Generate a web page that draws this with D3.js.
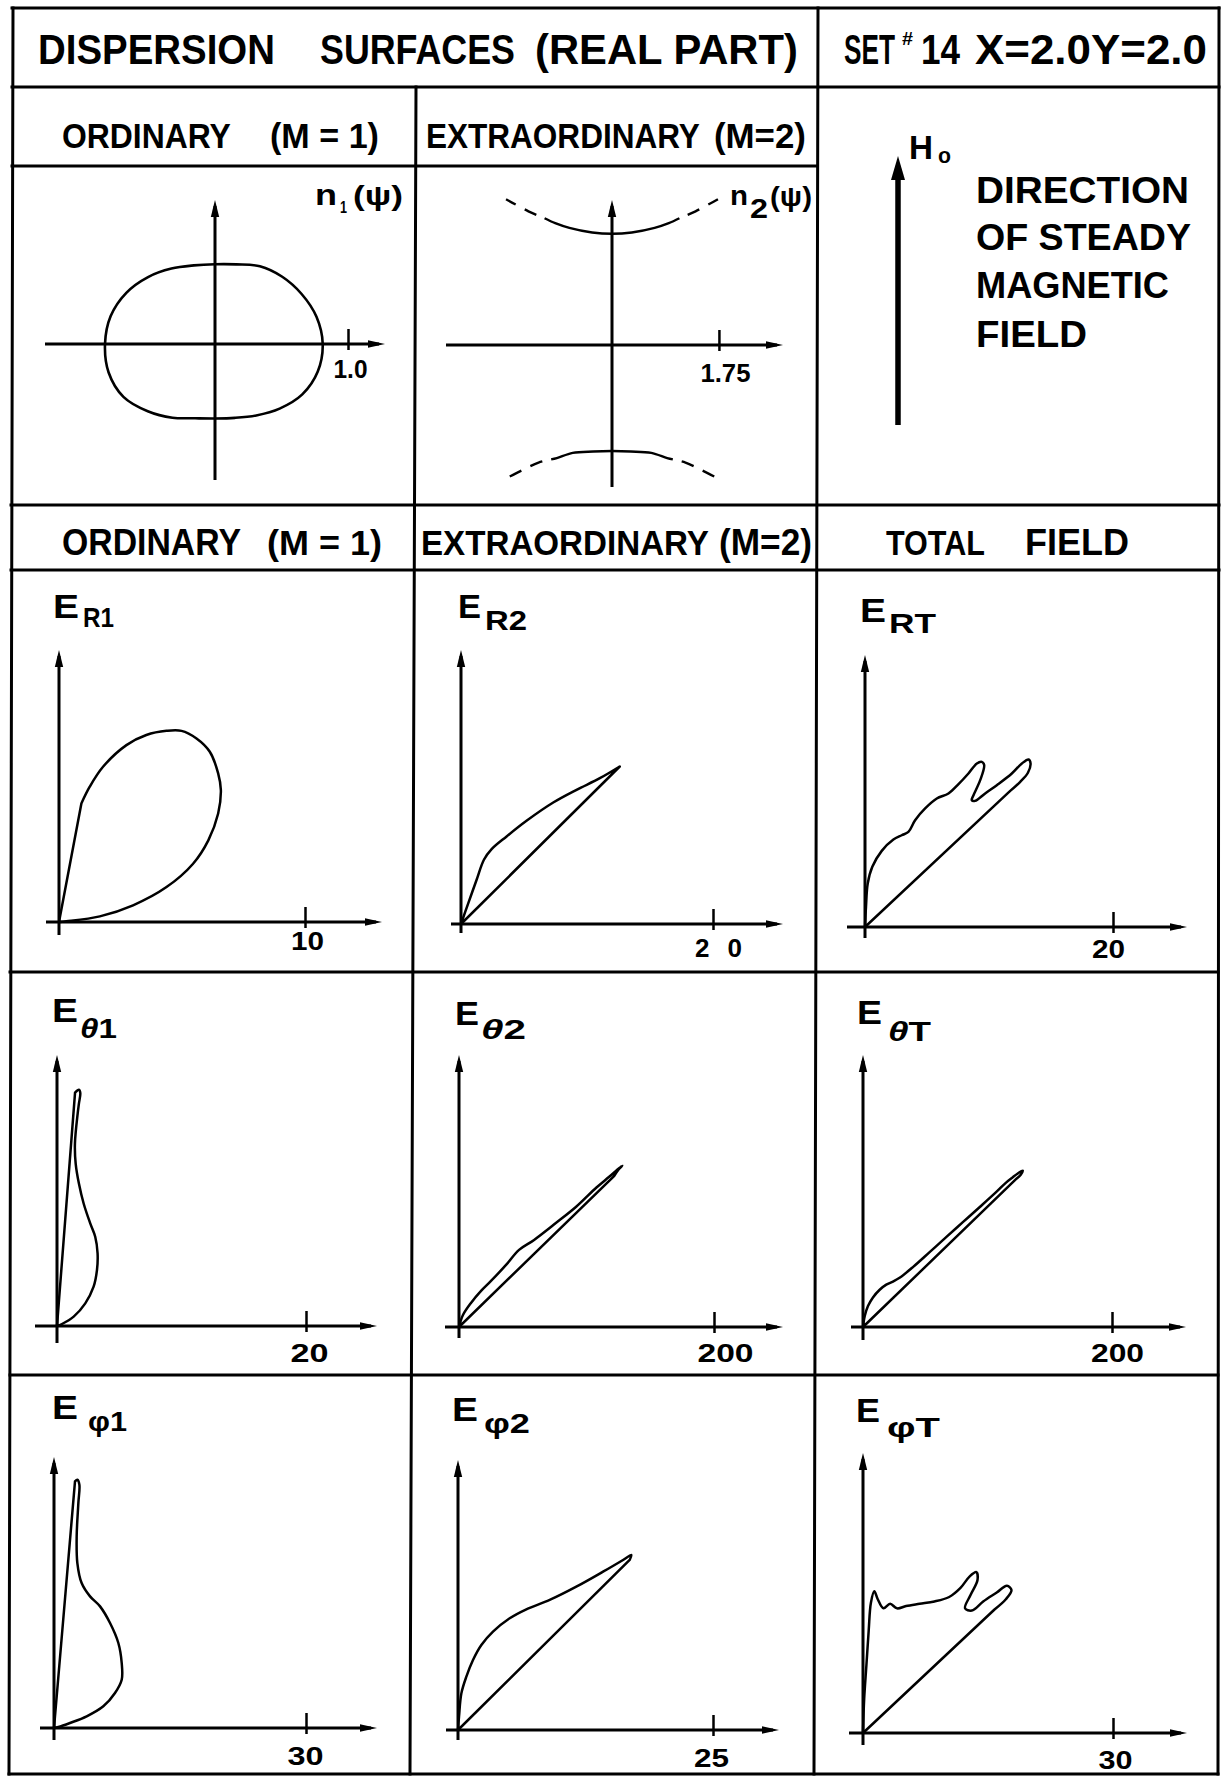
<!DOCTYPE html>
<html>
<head>
<meta charset="utf-8">
<script src="https://cdn.jsdelivr.net/npm/d3@7"></script>
<style>
  html, body { margin: 0; padding: 0; background: #fff; }
  svg { display: block; }
  text { font-family: "Liberation Sans", Arial, sans-serif; font-weight: bold; fill: #000; }
</style>
</head>
<body>
<svg id="chart" width="1222" height="1776"></svg>
<script>
// ---------- Dispersion surfaces ----------
// Ordinary mode n1(psi): psi in degrees from the steady field direction
const n1Psi    = [0, 15, 30, 45, 60, 75, 90, 105, 120, 135, 150, 165, 180, 195, 210, 225, 240, 255, 270, 285, 300, 315, 330, 345];
const n1Values = [0.60, 0.62, 0.675, 0.715, 0.752, 0.79, 0.81, 0.80, 0.758, 0.687, 0.62, 0.575, 0.56, 0.578, 0.64, 0.715, 0.795, 0.828, 0.827, 0.812, 0.77, 0.712, 0.655, 0.612];

// Extraordinary mode n2(psi): upper branch (psi from +axis) and lower branch (psi from -axis)
const n2UpperPsi    = [0, 10, 20, 25, 28, 32, 36];
const n2UpperValues = [1.82, 1.87, 2.04, 2.20, 2.35, 2.58, 2.95];
const n2LowerPsi    = [0, 10, 20, 26, 28, 32, 36, 39];
const n2LowerValues = [1.735, 1.77, 1.88, 2.06, 2.12, 2.27, 2.55, 2.85];
const n2SolidLimit  = 28;   // beyond this angle the branch is drawn dashed

// ---------- Field patterns (horizontal / vertical components) ----------
const eR1x = [0.91, 1.25, 1.79, 2.74, 3.55, 4.37, 4.98, 5.59, 6.13, 6.47, 6.58, 6.47, 6.07, 5.45, 4.37, 3.01, 1.66, 0.30, 0];
const eR1y = [4.82, 5.50, 6.31, 7.19, 7.60, 7.77, 7.77, 7.46, 6.92, 6.04, 5.36, 4.41, 3.32, 2.37, 1.42, 0.68, 0.23, 0.03, 0];

const eR2x = [0, 0.58, 1.24, 1.82, 2.43, 3.62, 5.20, 7.32, 9.17, 11.02, 12.60];
const eR2y = [0, 1.66, 3.51, 5.10, 5.94, 6.95, 8.19, 9.64, 10.65, 11.57, 12.50];

const eRTx = [0, 0.08, 0.22, 0.59, 1.35, 2.29, 2.96, 3.50, 4.04, 4.85, 5.79, 6.73, 7.54, 8.34, 9.02, 9.42, 9.61, 9.29, 8.75, 8.61, 8.88, 9.69, 10.63, 11.84, 12.65, 13.19, 13.35, 13.14, 12.52, 11.71];
const eRTy = [0, 1.62, 3.50, 4.85, 6.14, 7.05, 7.40, 7.67, 8.61, 9.56, 10.36, 10.77, 11.52, 12.38, 13.19, 13.32, 13.06, 11.84, 10.63, 10.23, 10.17, 10.77, 11.44, 12.38, 13.19, 13.51, 13.19, 12.44, 11.71, 10.98];

const eTh1x = [1.45, 1.76, 1.87, 1.76, 1.66, 1.44, 1.50, 1.76, 2.14, 2.67, 3.07, 3.26, 3.21, 2.94, 2.27, 1.34, 0.40, 0];
const eTh1y = [18.75, 18.98, 18.72, 17.86, 17.06, 14.65, 13.05, 11.44, 9.84, 8.24, 7.17, 5.83, 4.49, 3.16, 1.82, 0.75, 0.16, 0];

const eTh2x = [0, 3.1, 9.4, 17.3, 25.1, 36.9, 47.1, 58.9, 76.2, 91.9, 107.6, 117.8, 124.1, 128.0, 125.7, 121.8];
const eTh2y = [0, 9.4, 18.9, 28.3, 36.1, 48.7, 60.5, 68.3, 81.7, 94.3, 109.2, 117.8, 123.3, 126.5, 124.1, 118.6];

const eThTx = [0, 1.4, 4.0, 8.0, 13.4, 18.7, 24.1, 29.4, 40.1, 53.5, 66.8, 80.2, 93.6, 106.9, 114.9, 120.3, 124.3, 128.3, 126.7, 123.5];
const eThTy = [0, 8.8, 16.8, 23.7, 29.9, 34.0, 36.5, 39.5, 48.1, 60.1, 72.2, 84.2, 96.2, 108.3, 116.0, 120.3, 123.3, 125.6, 122.3, 119.3];

const ePh1x = [2.50, 2.78, 3.02, 2.90, 2.70, 2.78, 3.29, 4.29, 5.48, 6.67, 7.66, 8.06, 8.06, 7.26, 5.87, 3.89, 1.90, 0.52, 0];
const ePh1y = [29.37, 29.56, 28.97, 26.79, 22.82, 19.64, 17.26, 15.67, 14.48, 12.50, 10.12, 7.74, 5.75, 4.17, 2.58, 1.39, 0.60, 0.12, 0];

const ePh2x = [0, 0.10, 0.33, 0.82, 1.47, 2.29, 3.43, 5.07, 6.70, 8.99, 11.60, 14.22, 16.18, 16.99, 16.83];
const ePh2y = [0, 1.31, 3.59, 5.23, 6.86, 8.33, 9.64, 10.95, 11.83, 12.75, 14.05, 15.52, 16.67, 17.16, 16.67];

const ePhTx = [0, 0.14, 0.41, 0.68, 0.95, 1.36, 1.77, 2.45, 3.26, 4.08, 5.17, 6.80, 8.57, 10.34, 11.70, 12.78, 13.60, 13.74, 12.92, 12.24, 13.06, 14.42, 16.05, 17.27, 17.82, 17.14, 15.78];
const ePhTy = [0, 4.08, 8.16, 12.24, 15.64, 17.00, 16.05, 14.96, 15.50, 14.96, 15.23, 15.50, 15.78, 16.32, 17.41, 18.77, 19.31, 18.36, 16.59, 14.96, 14.69, 15.78, 16.86, 17.68, 17.14, 16.05, 14.82];

const patternSubscripts = ["R1", "R2", "RT", "θ1", "θ2", "θT", "φ1", "φ2", "φT"];
const patternTicks      = [10, 20, 20, 20, 200, 200, 30, 25, 30];
const patternX = [eR1x, eR2x, eRTx, eTh1x, eTh2x, eThTx, ePh1x, ePh2x, ePhTx];
const patternY = [eR1y, eR2y, eRTy, eTh1y, eTh2y, eThTy, ePh1y, ePh2y, ePhTy];

// ---------- Layout ----------
const svg = d3.select("#chart");
const ink = "#000";

// table frame
const frame = svg.append("g").attr("stroke", ink).attr("stroke-width", 3).attr("fill", "none").attr("stroke-linecap", "square");
[
  [12, 8, 1219, 8], [12, 87, 1219, 87], [12, 166, 816, 166], [11, 505, 1219, 505],
  [11, 570, 1219, 570], [10, 972, 1218, 972], [10, 1375, 1218, 1375], [9, 1774, 1218, 1774],
  [13, 8, 9, 1774], [1219, 8, 1218, 1774], [416, 87, 410, 1774], [818, 8, 814, 1774]
].forEach(l => frame.append("line").attr("x1", l[0]).attr("y1", l[1]).attr("x2", l[2]).attr("y2", l[3]));

// header lettering
const headers = [
  { t: "DISPERSION", x: 38, w: 237, y: 64, fs: 42 },
  { t: "SURFACES", x: 320, w: 195, y: 64, fs: 42 },
  { t: "(REAL PART)", x: 535, w: 263, y: 64, fs: 42 },
  { t: "SET", x: 844, w: 51, y: 64, fs: 42 },
  { t: "#", x: 902, w: 11, y: 45, fs: 18 },
  { t: "14", x: 921, w: 39, y: 64, fs: 42 },
  { t: "X=2.0Y=2.0", x: 975, w: 232, y: 64, fs: 42 },
  { t: "ORDINARY", x: 62, w: 169, y: 148, fs: 35 },
  { t: "(M = 1)", x: 270, w: 109, y: 148, fs: 35 },
  { t: "EXTRAORDINARY", x: 426, w: 274, y: 148, fs: 35 },
  { t: "(M=2)", x: 714, w: 92, y: 148, fs: 35 },
  { t: "ORDINARY", x: 62, w: 179, y: 555, fs: 36 },
  { t: "(M = 1)", x: 267, w: 115, y: 555, fs: 36 },
  { t: "EXTRAORDINARY", x: 421, w: 288, y: 555, fs: 36 },
  { t: "(M=2)", x: 719, w: 93, y: 555, fs: 36 },
  { t: "TOTAL", x: 886, w: 99, y: 555, fs: 36 },
  { t: "FIELD", x: 1025, w: 104, y: 555, fs: 36 },
  { t: "DIRECTION", x: 976, w: 213, y: 203, fs: 37 },
  { t: "OF STEADY", x: 976, w: 215, y: 250, fs: 37 },
  { t: "MAGNETIC", x: 976, w: 193, y: 298, fs: 37 },
  { t: "FIELD", x: 976, w: 111, y: 347, fs: 37 },
  { t: "H", x: 909, w: 24, y: 159, fs: 33 },
  { t: "o", x: 938, w: 13, y: 163, fs: 22 }
];

// Lettering fitted to a given width: narrow words get a smaller font stretched
// vertically back to full height, wide words get extra spacing.
function label(g, d) {
  const gg = g.append("g").attr("transform", `translate(${d.x},${d.y})`);
  const t = gg.append("text").attr("x", 0).attr("y", 0).attr("font-size", d.fs).text(d.t);
  const natural = t.node().getComputedTextLength();
  const s = d.w / natural;
  if (s < 1) {
    t.attr("font-size", d.fs * s);
    gg.attr("transform", `translate(${d.x},${d.y}) scale(1,${1 / s})`);
  } else {
    t.attr("textLength", d.w).attr("lengthAdjust", "spacingAndGlyphs");
  }
  return t;
}
headers.forEach(d => label(svg, d));

// arrow helpers
function arrowUp(g, x, yTip, len, hw) {
  g.append("path").attr("d", `M${x},${yTip}L${x + hw},${yTip + len}L${x - hw},${yTip + len}Z`).attr("fill", ink);
}
function arrowRight(g, xTip, y, len, hw) {
  g.append("path").attr("d", `M${xTip},${y}L${xTip - len},${y - hw}L${xTip - len},${y + hw}Z`).attr("fill", ink);
}

// steady field direction arrow
svg.append("line").attr("x1", 898).attr("y1", 425).attr("x2", 898).attr("y2", 170)
  .attr("stroke", ink).attr("stroke-width", 5.5);
arrowUp(svg, 898, 156, 24, 7);

// axis with one labelled tick, built from the panel's scale
function tickAxis(g, x, oy, tick, fmt, pad, dx, w, fs, adjust) {
  const ax = d3.axisBottom(x).tickValues([tick]).tickSize(-15).tickPadding(pad).tickFormat(fmt);
  const ga = g.append("g").attr("transform", `translate(0,${oy})`).call(ax);
  ga.select(".domain").remove();
  ga.attr("font-family", null).attr("font-size", null);
  ga.selectAll(".tick line").attr("y1", 6).attr("stroke", ink).attr("stroke-width", 2.5);
  ga.selectAll(".tick text").attr("font-size", fs).attr("dx", dx).attr("fill", ink)
    .attr("textLength", w).attr("lengthAdjust", adjust || "spacingAndGlyphs");
}

function drawAxes(g, ox, oy, hL, hR, vT, vB) {
  g.append("line").attr("x1", ox - hL).attr("y1", oy).attr("x2", ox + hR - 6).attr("y2", oy)
    .attr("stroke", ink).attr("stroke-width", 3);
  g.append("line").attr("x1", ox).attr("y1", oy + vB).attr("x2", ox).attr("y2", oy - vT + 6)
    .attr("stroke", ink).attr("stroke-width", 3);
  arrowRight(g, ox + hR, oy, 17, 3.8);
  arrowUp(g, ox, oy - vT, 17, 4.2);
}

// ---------- n1(psi) ----------
{
  const g = svg.append("g");
  const cx = 215, cy = 344, unit = 133;
  const x = d3.scaleLinear().domain([0, 1]).range([cx, cx + unit]);
  const r = d3.scaleLinear().domain([0, 1]).range([0, unit]);
  drawAxes(g, cx, cy, 170, 170, 144, 136);
  tickAxis(g, x, cy, 1.0, d3.format(".1f"), 16, 2, 34, 25);
  const pts = n1Psi.map((p, i) => [p * Math.PI / 180, n1Values[i]]);
  const line = d3.lineRadial().angle(d => d[0]).radius(d => r(d[1])).curve(d3.curveCatmullRomClosed);
  g.append("path").attr("transform", `translate(${cx},${cy})`).attr("d", line(pts))
    .attr("fill", "none").attr("stroke", ink).attr("stroke-width", 2.6);
  label(g, { t: "n", x: 315, w: 22, y: 205, fs: 30 });
  label(g, { t: "1", x: 340, w: 7, y: 213, fs: 17 });
  label(g, { t: "(ψ)", x: 353, w: 50, y: 205, fs: 27 });
}

// ---------- n2(psi) ----------
{
  const g = svg.append("g");
  const cx = 612, cy = 345, unit = 61.1;
  const x = d3.scaleLinear().domain([0, 1]).range([cx, cx + unit]);
  const r = d3.scaleLinear().domain([0, 1]).range([0, unit]);
  drawAxes(g, cx, cy, 166, 171, 145, 142);
  tickAxis(g, x, cy, 1.75, d3.format(".2f"), 19, 6, 50, 26);
  const line = d3.lineRadial().angle(d => d[0]).radius(d => r(d[1])).curve(d3.curveCatmullRom);
  const branch = (psi, vals, flip) => {
    const toA = p => (flip ? 180 - p : p) * Math.PI / 180;
    const full = [];
    for (let i = psi.length - 1; i > 0; i--) full.push([-psi[i], vals[i]]);
    for (let i = 0; i < psi.length; i++) full.push([psi[i], vals[i]]);
    const solid = full.filter(d => Math.abs(d[0]) <= n2SolidLimit).map(d => [toA(d[0]), d[1]]);
    const left = full.filter(d => d[0] <= -n2SolidLimit).reverse().map(d => [toA(d[0]), d[1]]);
    const right = full.filter(d => d[0] >= n2SolidLimit).map(d => [toA(d[0]), d[1]]);
    const gg = g.append("g").attr("transform", `translate(${cx},${cy})`)
      .attr("fill", "none").attr("stroke", ink).attr("stroke-width", 2.4);
    gg.append("path").attr("d", line(solid));
    [left, right].forEach(seg => gg.append("path").attr("d", line(seg))
      .attr("stroke-dasharray", "13,10").attr("stroke-dashoffset", -9));
  };
  branch(n2UpperPsi, n2UpperValues, false);
  branch(n2LowerPsi, n2LowerValues, true);
  label(g, { t: "n", x: 730, w: 18, y: 205, fs: 28 });
  label(g, { t: "2", x: 750, w: 18, y: 218, fs: 28 });
  label(g, { t: "(ψ)", x: 770, w: 42, y: 206, fs: 27 });
}

// ---------- field pattern panels ----------
const panelLayout = [
  { ox: 59,  oy: 922,  tp: 246, hL: 13, hR: 323, vT: 272, vB: 13, ex: 53,  eb: 618,  ew: 26, sx: 83,  sb: 627,  sw: 31, pad: 9.5,  dx: 2,  lw: 33 },
  { ox: 461, oy: 924,  tp: 252, hL: 10, hR: 322, vT: 274, vB: 9,  ex: 458, eb: 618,  ew: 23, sx: 485, sb: 630,  sw: 42, pad: 14.5, dx: 5,  lw: 47, spread: true },
  { ox: 865, oy: 927,  tp: 248, hL: 18, hR: 322, vT: 272, vB: 11, ex: 860, eb: 622,  ew: 26, sx: 889, sb: 633,  sw: 47, pad: 12.5, dx: -5, lw: 33 },
  { ox: 57,  oy: 1326, tp: 249, hL: 22, hR: 320, vT: 271, vB: 17, ex: 52,  eb: 1022, ew: 26, sx: 80,  sb: 1038, sw: 37, pad: 17.5, dx: 3,  lw: 38 },
  { ox: 459, oy: 1327, tp: 255, hL: 14, hR: 324, vT: 272, vB: 11, ex: 455, eb: 1025, ew: 24, sx: 481, sb: 1039, sw: 45, pad: 16.5, dx: 11, lw: 56 },
  { ox: 863, oy: 1327, tp: 249, hL: 12, hR: 323, vT: 272, vB: 13, ex: 857, eb: 1024, ew: 25, sx: 888, sb: 1041, sw: 43, pad: 16.5, dx: 5,  lw: 53 },
  { ox: 54,  oy: 1728, tp: 252, hL: 14, hR: 323, vT: 271, vB: 12, ex: 52,  eb: 1419, ew: 26, sx: 88,  sb: 1431, sw: 39, pad: 18.5, dx: -1, lw: 36 },
  { ox: 458, oy: 1730, tp: 255, hL: 12, hR: 321, vT: 270, vB: 10, ex: 452, eb: 1421, ew: 26, sx: 484, sb: 1433, sw: 46, pad: 18.5, dx: -2, lw: 35 },
  { ox: 863, oy: 1733, tp: 250, hL: 14, hR: 324, vT: 280, vB: 12, ex: 856, eb: 1422, ew: 24, sx: 887, sb: 1437, sw: 53, pad: 17.5, dx: 2,  lw: 34 }
];

const curveLine = d3.line().curve(d3.curveCatmullRom.alpha(0.5));

panelLayout.forEach((L, i) => {
  const g = svg.append("g");
  const tick = patternTicks[i];
  const x = d3.scaleLinear().domain([0, tick]).range([L.ox, L.ox + L.tp]);
  const y = d3.scaleLinear().domain([0, tick]).range([L.oy, L.oy - L.tp]);
  drawAxes(g, L.ox, L.oy, L.hL, L.hR, L.vT, L.vB);
  tickAxis(g, x, L.oy, tick, d3.format("d"), L.pad, L.dx, L.lw, 26, L.spread ? "spacing" : null);

  // closed lobe: straight ray from the origin, traced curve, straight ray back
  const pts = patternX[i].map((v, k) => [x(v), y(patternY[i][k])]);
  const c = curveLine(pts);
  g.append("path").attr("d", `M${x(0)},${y(0)}L` + c.slice(1) + "Z")
    .attr("fill", "none").attr("stroke", ink).attr("stroke-width", 2.5).attr("stroke-linejoin", "round");

  // title E with subscript
  label(g, { t: "E", x: L.ex, w: L.ew, y: L.eb, fs: 34 });
  const sub = patternSubscripts[i];
  const st = g.append("text").attr("x", L.sx).attr("y", L.sb).attr("font-size", 28)
    .attr("textLength", L.sw).attr("lengthAdjust", "spacingAndGlyphs");
  if (sub[0] === "θ") {
    st.append("tspan").attr("font-style", "italic").text("θ");
    st.append("tspan").text(sub.slice(1));
  } else {
    st.text(sub);
  }
});
</script>
</body>
</html>
